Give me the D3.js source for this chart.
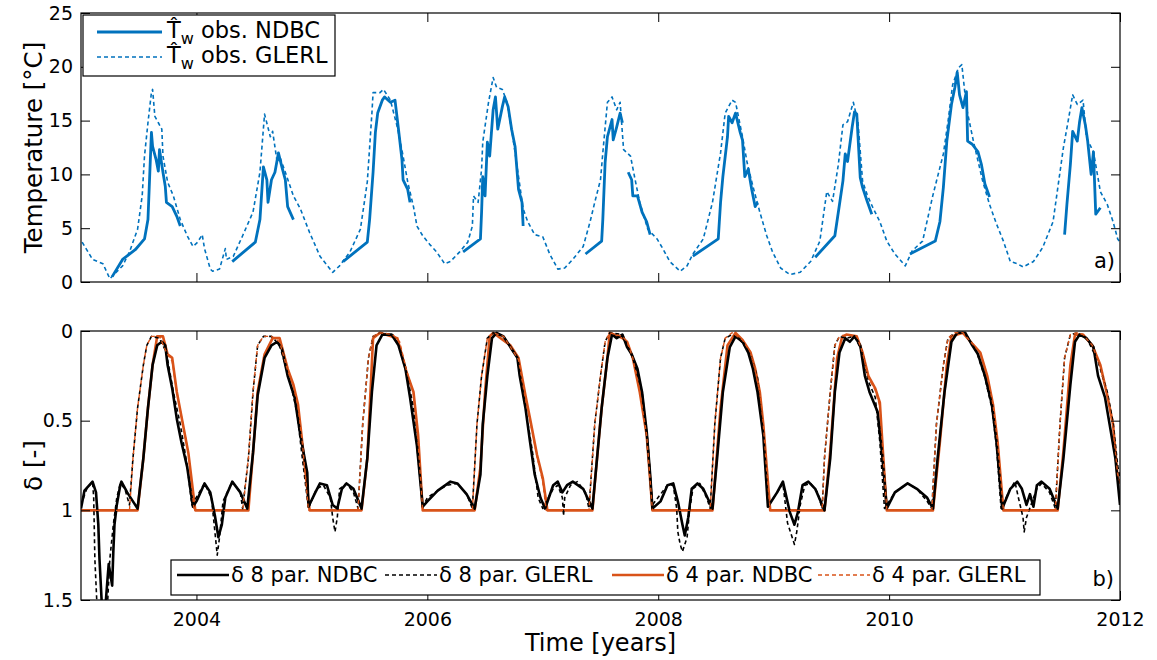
<!DOCTYPE html>
<html>
<head>
<meta charset="utf-8">
<script src="https://cdn.jsdelivr.net/npm/d3@7"></script>
<style>
  body { margin: 0; background: #fff; }
  svg { display: block; font-family: 'DejaVu Sans', sans-serif; }
</style>
</head>
<body>
<svg id="chart"></svg>
<script>

/*
*   Data: [decimal year, value], null = gap in record
*/

const tempGLERL = [
    [2003.01,3.7],[2003.10,2.1],[2003.19,1.7],[2003.25,0.3],[2003.36,1.5],[2003.42,2.8],[2003.49,4.9],[2003.53,8.0],
    [2003.55,11.7],[2003.58,14.8],[2003.61,17.6],[2003.62,17.9],[2003.64,15.4],[2003.67,14.8],[2003.70,14.2],[2003.71,11.7],
    [2003.75,9.3],[2003.80,8.0],[2003.86,5.8],[2003.92,4.3],[2003.97,3.3],[2004.01,3.7],[2004.05,4.4],[2004.07,3.1],
    [2004.12,1.2],[2004.14,1.0],[2004.20,1.2],[2004.25,3.1],[2004.26,2.1],[2004.32,2.4],[2004.40,4.3],[2004.49,6.5],
    [2004.55,10.2],[2004.59,15.6],[2004.64,13.5],[2004.66,14.0],[2004.70,11.1],[2004.72,11.7],[2004.77,10.2],[2004.84,8.0],
    [2004.90,6.8],[2004.98,4.6],[2005.07,2.4],[2005.18,0.9],[2005.24,1.5],[2005.33,2.8],[2005.42,4.9],[2005.48,9.3],
    [2005.52,15.7],[2005.53,17.6],[2005.59,17.6],[2005.62,17.9],[2005.68,16.9],[2005.74,14.4],[2005.79,11.7],[2005.83,9.3],
    [2005.88,7.0],[2005.91,5.2],[2005.96,4.3],[2006.02,3.5],[2006.08,2.8],[2006.15,1.7],[2006.20,1.9],[2006.28,2.8],
    [2006.35,3.7],[2006.39,5.2],[2006.40,8.0],[2006.44,7.4],[2006.47,10.5],[2006.48,13.0],[2006.53,16.7],[2006.57,19.0],
    [2006.60,18.1],[2006.65,17.9],[2006.69,16.7],[2006.74,13.5],[2006.79,9.8],[2006.83,6.8],[2006.87,5.6],[2006.93,4.4],
    [2007.00,4.2],[2007.06,2.6],[2007.13,1.2],[2007.19,1.3],[2007.26,2.1],[2007.35,3.3],[2007.41,5.6],[2007.45,7.4],
    [2007.50,9.5],[2007.52,12.0],[2007.56,16.7],[2007.60,17.2],[2007.64,16.0],[2007.67,16.7],[2007.70,12.3],[2007.76,11.7],
    [2007.80,9.5],[2007.84,7.4],[2007.91,4.9],[2007.99,4.0],[2008.04,3.1],[2008.10,1.9],[2008.19,1.0],[2008.25,1.5],
    [2008.30,2.6],[2008.39,4.0],[2008.47,7.4],[2008.54,12.0],[2008.58,15.7],[2008.64,16.9],[2008.67,16.7],[2008.73,13.5],
    [2008.77,11.1],[2008.82,8.9],[2008.88,6.5],[2008.94,4.3],[2008.99,2.8],[2009.06,1.3],[2009.14,0.7],[2009.23,0.9],
    [2009.32,1.9],[2009.40,3.8],[2009.46,8.4],[2009.51,7.5],[2009.56,10.9],[2009.60,14.6],[2009.64,14.9],[2009.69,16.7],
    [2009.73,14.9],[2009.77,9.4],[2009.81,8.1],[2009.86,6.9],[2009.92,5.6],[2009.98,3.8],[2010.05,2.6],[2010.14,1.5],
    [2010.20,2.9],[2010.29,3.8],[2010.38,8.1],[2010.47,11.9],[2010.51,14.9],[2010.55,18.3],[2010.60,19.9],[2010.63,20.2],
    [2010.67,16.2],[2010.73,13.1],[2010.81,9.4],[2010.87,7.2],[2010.93,5.4],[2010.99,3.8],[2011.05,1.9],[2011.11,1.7],
    [2011.16,1.4],[2011.25,1.9],[2011.33,3.2],[2011.42,5.6],[2011.51,12.5],[2011.55,14.9],[2011.59,17.4],[2011.63,16.5],
    [2011.68,16.9],[2011.71,13.4],[2011.77,12.1],[2011.83,8.4],[2011.89,7.2],[2011.94,5.6],[2011.98,4.0],[2012.00,3.7]
]

const tempNDBC = [
    [2003.27,0.5],[2003.36,2.1],[2003.47,3.0],[2003.55,4.0],[2003.58,5.8],[2003.61,13.9],[2003.62,12.6],[2003.65,11.4],
    [2003.67,10.3],[2003.68,12.3],[2003.71,10.2],[2003.73,8.9],[2003.74,7.4],[2003.79,7.0],[2003.83,6.1],[2003.86,5.2],
    null,
    [2004.31,1.9],[2004.51,3.7],[2004.55,5.8],[2004.58,10.7],[2004.61,9.5],[2004.62,7.4],[2004.65,9.5],[2004.68,10.2],
    [2004.71,12.0],[2004.74,10.7],[2004.77,9.5],[2004.79,7.0],[2004.84,5.8],
    null,
    [2005.27,1.9],[2005.48,3.7],[2005.50,5.8],[2005.53,10.2],[2005.55,13.9],[2005.57,15.7],[2005.61,16.9],[2005.63,17.2],
    [2005.68,16.7],[2005.72,16.9],[2005.75,14.2],[2005.78,11.4],[2005.79,9.5],[2005.83,8.6],[2005.85,7.4],
    null,
    [2006.31,2.8],[2006.46,4.0],[2006.47,6.5],[2006.48,9.8],[2006.50,8.0],[2006.52,13.0],[2006.54,11.7],[2006.57,16.0],
    [2006.59,17.2],[2006.61,14.2],[2006.65,16.3],[2006.67,17.2],[2006.70,16.3],[2006.73,14.2],[2006.76,12.6],[2006.79,8.6],
    [2006.82,7.4],[2006.83,5.2],
    null,
    [2007.37,2.6],[2007.51,3.8],[2007.52,5.8],[2007.54,11.1],[2007.56,13.5],[2007.60,15.1],[2007.61,13.2],[2007.64,14.4],
    [2007.67,15.7],[2007.69,14.8],
    null,
    [2007.74,10.2],[2007.77,9.5],[2007.78,8.0],[2007.82,8.0],[2007.86,6.5],[2007.90,5.6],[2007.93,4.4],
    null,
    [2008.30,2.4],[2008.52,4.0],[2008.54,7.4],[2008.56,9.8],[2008.60,13.5],[2008.61,15.4],[2008.64,14.8],[2008.67,15.7],
    [2008.71,13.9],[2008.73,13.2],[2008.75,9.8],[2008.78,10.5],[2008.81,8.6],[2008.84,7.0],[2008.86,7.4],
    null,
    [2009.36,2.3],[2009.53,4.3],[2009.57,7.2],[2009.60,9.4],[2009.62,11.9],[2009.64,11.2],[2009.68,14.4],[2009.70,15.8],
    [2009.72,15.6],[2009.75,9.7],[2009.77,8.8],[2009.81,7.5],[2009.85,6.3],
    null,
    [2010.18,2.6],[2010.40,3.8],[2010.44,5.6],[2010.47,8.8],[2010.50,13.1],[2010.54,16.5],[2010.57,18.1],[2010.59,19.5],
    [2010.61,17.4],[2010.64,16.2],[2010.67,17.7],[2010.68,13.1],[2010.72,12.8],[2010.77,12.1],[2010.80,10.9],[2010.83,9.1],
    [2010.87,7.9],
    null,
    [2011.52,4.4],[2011.54,7.2],[2011.57,10.9],[2011.59,14.0],[2011.63,13.1],[2011.65,14.9],[2011.67,16.2],[2011.70,14.6],
    [2011.72,13.1],[2011.75,10.0],[2011.77,12.1],[2011.79,6.3],[2011.83,6.9]
]

const delta8NDBC = [
    [2003.00,0.99],[2003.03,0.89],[2003.10,0.84],[2003.13,0.90],[2003.15,1.08],[2003.16,1.27],[2003.18,1.52],[2003.20,1.60],
    [2003.21,1.55],[2003.23,1.38],[2003.24,1.30],[2003.27,1.42],[2003.28,1.23],[2003.29,1.08],[2003.31,0.97],[2003.34,0.86],
    [2003.35,0.84],[2003.40,0.90],[2003.45,0.95],[2003.49,0.99],[2003.54,0.71],[2003.58,0.43],[2003.62,0.19],[2003.66,0.08],
    [2003.70,0.06],[2003.73,0.08],[2003.75,0.19],[2003.79,0.32],[2003.83,0.49],[2003.87,0.62],[2003.92,0.76],[2003.97,0.98],
    [2004.00,0.95],[2004.07,0.85],[2004.12,0.90],[2004.16,1.03],[2004.19,1.15],[2004.22,1.08],[2004.25,0.93],[2004.31,0.84],
    [2004.38,0.90],[2004.44,0.99],[2004.49,0.68],[2004.53,0.36],[2004.59,0.15],[2004.65,0.08],[2004.70,0.06],[2004.74,0.10],
    [2004.79,0.25],[2004.85,0.37],[2004.90,0.58],[2004.96,0.79],[2004.97,0.98],[2005.03,0.90],[2005.07,0.85],[2005.13,0.86],
    [2005.18,0.97],[2005.22,0.99],[2005.26,0.88],[2005.30,0.85],[2005.36,0.88],[2005.43,0.99],[2005.48,0.71],[2005.52,0.34],
    [2005.56,0.08],[2005.61,0.02],[2005.69,0.02],[2005.75,0.08],[2005.81,0.21],[2005.85,0.37],[2005.91,0.64],[2005.96,0.98],
    [2006.00,0.95],[2006.09,0.89],[2006.20,0.84],[2006.26,0.85],[2006.34,0.91],[2006.41,0.99],[2006.46,0.80],[2006.48,0.52],
    [2006.52,0.25],[2006.56,0.04],[2006.60,0.01],[2006.66,0.03],[2006.73,0.10],[2006.78,0.15],[2006.80,0.25],[2006.85,0.43],
    [2006.89,0.62],[2006.93,0.80],[2006.98,0.93],[2007.02,0.99],[2007.09,0.86],[2007.13,0.84],[2007.17,0.90],[2007.21,0.86],
    [2007.26,0.84],[2007.35,0.88],[2007.43,0.99],[2007.47,0.71],[2007.51,0.43],[2007.56,0.15],[2007.60,0.02],[2007.64,0.04],
    [2007.69,0.02],[2007.73,0.09],[2007.77,0.13],[2007.82,0.21],[2007.86,0.34],[2007.90,0.56],[2007.93,0.80],[2007.95,0.99],
    [2008.02,0.95],[2008.08,0.86],[2008.13,0.85],[2008.17,0.95],[2008.21,1.08],[2008.23,1.14],[2008.26,1.04],[2008.29,0.88],
    [2008.34,0.85],[2008.39,0.88],[2008.47,0.99],[2008.51,0.71],[2008.56,0.34],[2008.62,0.09],[2008.67,0.03],[2008.73,0.06],
    [2008.78,0.12],[2008.82,0.21],[2008.86,0.34],[2008.91,0.58],[2008.95,0.98],[2009.03,0.90],[2009.08,0.84],[2009.14,1.01],
    [2009.18,1.08],[2009.21,1.01],[2009.25,0.86],[2009.30,0.84],[2009.36,0.88],[2009.44,1.00],[2009.49,0.71],[2009.53,0.34],
    [2009.57,0.12],[2009.62,0.04],[2009.66,0.06],[2009.70,0.03],[2009.75,0.08],[2009.79,0.25],[2009.83,0.34],[2009.90,0.45],
    [2009.94,0.69],[2009.98,0.99],[2010.05,0.90],[2010.16,0.85],[2010.24,0.88],[2010.33,0.93],[2010.38,0.99],[2010.42,0.71],
    [2010.48,0.34],[2010.54,0.06],[2010.59,0.01],[2010.66,0.01],[2010.72,0.08],[2010.77,0.13],[2010.83,0.25],[2010.89,0.41],
    [2010.93,0.62],[2010.98,0.99],[2011.05,0.88],[2011.11,0.84],[2011.15,0.88],[2011.19,0.97],[2011.22,0.91],[2011.25,0.98],
    [2011.28,0.86],[2011.32,0.84],[2011.39,0.88],[2011.46,0.99],[2011.51,0.71],[2011.57,0.30],[2011.61,0.06],[2011.65,0.02],
    [2011.71,0.04],[2011.77,0.09],[2011.81,0.25],[2011.87,0.37],[2011.91,0.52],[2011.96,0.71],[2012.00,0.97]
]

const delta8GLERL = [
    [2003.00,0.97],[2003.05,0.88],[2003.10,0.84],[2003.11,0.93],[2003.12,1.27],[2003.14,1.55],[2003.16,1.70],[2003.22,1.70],
    [2003.23,1.52],[2003.25,1.27],[2003.28,1.08],[2003.31,0.93],[2003.34,0.85],[2003.38,0.88],[2003.42,0.97],[2003.45,0.71],
    [2003.49,0.43],[2003.54,0.19],[2003.57,0.08],[2003.61,0.03],[2003.68,0.04],[2003.74,0.12],[2003.80,0.34],[2003.86,0.52],
    [2003.92,0.75],[2003.96,0.97],[2004.07,0.85],[2004.13,0.93],[2004.16,1.12],[2004.18,1.25],[2004.20,1.15],[2004.23,0.95],
    [2004.31,0.84],[2004.38,0.90],[2004.40,0.99],[2004.45,0.71],[2004.49,0.34],[2004.53,0.08],[2004.58,0.03],[2004.65,0.03],
    [2004.72,0.08],[2004.81,0.28],[2004.87,0.45],[2004.91,0.67],[2004.97,0.99],[2005.04,0.88],[2005.10,0.86],[2005.16,0.93],
    [2005.18,1.04],[2005.20,1.12],[2005.22,1.04],[2005.24,0.88],[2005.30,0.85],[2005.36,0.90],[2005.40,0.99],[2005.44,0.52],
    [2005.49,0.15],[2005.53,0.03],[2005.59,0.01],[2005.70,0.02],[2005.76,0.09],[2005.82,0.23],[2005.88,0.43],[2005.92,0.71],
    [2005.96,0.98],[2006.00,0.93],[2006.09,0.89],[2006.17,0.86],[2006.26,0.85],[2006.34,0.91],[2006.39,0.99],[2006.43,0.52],
    [2006.47,0.25],[2006.52,0.04],[2006.57,0.01],[2006.66,0.03],[2006.78,0.15],[2006.85,0.43],[2006.91,0.67],[2006.96,0.93],
    [2007.00,0.99],[2007.09,0.88],[2007.13,0.86],[2007.17,0.93],[2007.18,1.03],[2007.19,0.93],[2007.24,0.86],[2007.30,0.84],
    [2007.37,0.90],[2007.40,0.99],[2007.45,0.52],[2007.50,0.25],[2007.54,0.06],[2007.58,0.01],[2007.69,0.02],[2007.78,0.15],
    [2007.86,0.34],[2007.91,0.62],[2007.95,0.97],[2008.02,0.91],[2008.08,0.86],[2008.13,0.86],[2008.16,0.99],[2008.17,1.12],
    [2008.19,1.19],[2008.21,1.23],[2008.25,1.15],[2008.27,1.01],[2008.30,0.88],[2008.36,0.85],[2008.42,0.93],[2008.45,0.99],
    [2008.49,0.52],[2008.54,0.15],[2008.58,0.04],[2008.64,0.02],[2008.71,0.05],[2008.80,0.13],[2008.86,0.26],[2008.90,0.49],
    [2008.94,0.80],[2008.95,0.98],[2009.03,0.90],[2009.08,0.85],[2009.12,1.07],[2009.16,1.15],[2009.18,1.19],[2009.20,1.12],
    [2009.23,0.97],[2009.27,0.86],[2009.32,0.85],[2009.38,0.90],[2009.42,0.99],[2009.44,0.71],[2009.49,0.34],[2009.53,0.08],
    [2009.57,0.03],[2009.63,0.04],[2009.70,0.03],[2009.77,0.12],[2009.82,0.28],[2009.88,0.37],[2009.92,0.62],[2009.96,0.99],
    [2010.05,0.90],[2010.16,0.85],[2010.24,0.88],[2010.33,0.95],[2010.37,0.99],[2010.41,0.52],[2010.47,0.19],[2010.51,0.04],
    [2010.57,0.01],[2010.66,0.01],[2010.76,0.12],[2010.83,0.26],[2010.89,0.43],[2010.93,0.64],[2010.97,0.99],[2011.05,0.88],
    [2011.09,0.84],[2011.12,0.93],[2011.16,1.04],[2011.17,1.12],[2011.19,1.04],[2011.24,0.95],[2011.28,0.88],[2011.32,0.85],
    [2011.39,0.90],[2011.44,0.99],[2011.48,0.52],[2011.52,0.15],[2011.57,0.02],[2011.63,0.01],[2011.72,0.05],[2011.81,0.17],
    [2011.89,0.34],[2011.94,0.51],[2011.98,0.75],[2012.00,0.82]
]

const delta4NDBC = [
    [2003.00,1.00],[2003.49,1.00],[2003.54,0.71],[2003.58,0.43],[2003.62,0.19],[2003.66,0.03],[2003.71,0.03],[2003.75,0.13],
    [2003.79,0.15],[2003.83,0.34],[2003.88,0.51],[2003.93,0.68],[2003.99,1.00],[2004.45,1.00],[2004.49,0.68],[2004.53,0.34],
    [2004.59,0.13],[2004.66,0.04],[2004.72,0.04],[2004.79,0.21],[2004.84,0.30],[2004.88,0.41],[2004.92,0.64],[2004.98,1.00],
    [2005.43,1.00],[2005.48,0.71],[2005.53,0.04],[2005.59,0.01],[2005.74,0.04],[2005.82,0.23],[2005.88,0.34],[2005.92,0.58],
    [2005.96,1.00],[2006.41,1.00],[2006.46,0.76],[2006.50,0.34],[2006.54,0.03],[2006.57,0.01],[2006.72,0.08],[2006.79,0.15],
    [2006.85,0.36],[2006.89,0.49],[2006.95,0.69],[2007.00,0.82],[2007.04,1.00],[2007.43,1.00],[2007.47,0.71],[2007.51,0.43],
    [2007.56,0.15],[2007.58,0.01],[2007.69,0.04],[2007.73,0.06],[2007.78,0.15],[2007.84,0.34],[2007.90,0.58],[2007.95,1.00],
    [2008.47,1.00],[2008.54,0.43],[2008.60,0.08],[2008.67,0.01],[2008.73,0.05],[2008.80,0.12],[2008.84,0.21],[2008.88,0.34],
    [2008.91,0.52],[2008.94,0.76],[2008.97,1.00],[2009.44,1.00],[2009.49,0.67],[2009.55,0.15],[2009.59,0.04],[2009.63,0.02],
    [2009.72,0.03],[2009.77,0.12],[2009.82,0.25],[2009.88,0.32],[2009.92,0.40],[2009.95,0.71],[2009.98,1.00],[2010.38,1.00],
    [2010.44,0.62],[2010.50,0.19],[2010.54,0.03],[2010.64,0.01],[2010.72,0.07],[2010.79,0.12],[2010.85,0.25],[2010.90,0.41],
    [2010.94,0.62],[2010.99,1.00],[2011.46,1.00],[2011.51,0.67],[2011.57,0.19],[2011.61,0.02],[2011.68,0.02],[2011.76,0.08],
    [2011.83,0.19],[2011.89,0.36],[2011.94,0.52],[2011.98,0.82],[2012.00,0.85]
]

const delta4GLERL = [
    [2003.00,1.00],[2003.42,1.00],[2003.45,0.71],[2003.49,0.43],[2003.54,0.19],[2003.57,0.08],[2003.61,0.03],[2003.68,0.03],
    [2003.74,0.12],[2003.79,0.17],[2003.83,0.34],[2003.88,0.51],[2003.93,0.68],[2003.98,1.00],[2004.40,1.00],[2004.45,0.71],
    [2004.49,0.34],[2004.53,0.08],[2004.58,0.03],[2004.65,0.03],[2004.72,0.06],[2004.79,0.22],[2004.84,0.31],[2004.88,0.42],
    [2004.92,0.64],[2004.97,1.00],[2005.40,1.00],[2005.44,0.52],[2005.49,0.15],[2005.53,0.03],[2005.59,0.01],[2005.70,0.02],
    [2005.76,0.06],[2005.82,0.22],[2005.88,0.35],[2005.92,0.62],[2005.96,1.00],[2006.39,1.00],[2006.43,0.52],[2006.47,0.25],
    [2006.52,0.04],[2006.57,0.01],[2006.66,0.03],[2006.72,0.09],[2006.79,0.16],[2006.85,0.38],[2006.89,0.50],[2006.95,0.70],
    [2007.00,0.84],[2007.03,1.00],[2007.40,1.00],[2007.45,0.52],[2007.50,0.25],[2007.54,0.06],[2007.58,0.01],[2007.69,0.03],
    [2007.73,0.06],[2007.78,0.15],[2007.84,0.34],[2007.90,0.58],[2007.95,1.00],[2008.45,1.00],[2008.49,0.52],[2008.54,0.15],
    [2008.58,0.04],[2008.64,0.01],[2008.73,0.05],[2008.80,0.12],[2008.84,0.22],[2008.88,0.34],[2008.91,0.52],[2008.94,0.78],
    [2008.97,1.00],[2009.42,1.00],[2009.44,0.71],[2009.49,0.34],[2009.53,0.08],[2009.57,0.03],[2009.63,0.02],[2009.72,0.03],
    [2009.77,0.12],[2009.82,0.26],[2009.88,0.33],[2009.92,0.42],[2009.95,0.71],[2009.98,1.00],[2010.37,1.00],[2010.41,0.52],
    [2010.47,0.19],[2010.51,0.04],[2010.57,0.01],[2010.64,0.01],[2010.72,0.07],[2010.79,0.12],[2010.85,0.25],[2010.90,0.41],
    [2010.94,0.62],[2010.99,1.00],[2011.44,1.00],[2011.48,0.52],[2011.52,0.15],[2011.57,0.02],[2011.63,0.01],[2011.68,0.02],
    [2011.76,0.08],[2011.83,0.20],[2011.89,0.36],[2011.94,0.54],[2011.98,0.80],[2012.00,0.84]
]

const yearTicks = [2004, 2006, 2008, 2010, 2012]
const tempTicks = [0, 5, 10, 15, 20, 25]
const deltaTicks = [0, 0.5, 1, 1.5]


/*
*   Colors and layout
*/

const COLORS = {
    blue: '#0072BD',
    orange: '#D95319',
    black: '#000000',
}

const WIDTH = 1157
const HEIGHT = 660
const LEFT = 81
const RIGHT = 1120
const TOP_A = 13
const BOTTOM_A = 282
const TOP_B = 331
const BOTTOM_B = 600
const TICK = 9


/*
*   Scales
*/

const x = d3.scaleLinear().domain([2003, 2012]).range([LEFT, RIGHT])
const yTemp = d3.scaleLinear().domain([0, 25]).range([BOTTOM_A, TOP_A])
const yDelta = d3.scaleLinear().domain([0, 1.5]).range([TOP_B, BOTTOM_B])

const svg = d3.select('#chart')
    .attr('width', WIDTH)
    .attr('height', HEIGHT)


/*
*   Draws a boxed panel with inward ticks on all four sides.
*/

const drawFrame = (yScale, yTickValues, showX, top, bottom) => {

    const g = svg.append('g')

    const styleAxis = sel => {
        sel.select('.domain').remove()
        sel.selectAll('.tick line').attr('stroke', '#000').attr('stroke-width', 1)
        sel.selectAll('text')
            .attr('fill', '#000')
            .style('font-size', '19px')
            .style('font-family', "'DejaVu Sans', sans-serif")
    }

    g.append('g')
        .attr('transform', `translate(0,${bottom})`)
        .call(d3.axisBottom(x).tickValues(yearTicks).tickSize(-TICK).tickPadding(13)
            .tickFormat(showX ? d3.format('d') : () => ''))
        .call(styleAxis)

    g.append('g')
        .attr('transform', `translate(0,${top})`)
        .call(d3.axisTop(x).tickValues(yearTicks).tickSize(-TICK).tickFormat(() => ''))
        .call(styleAxis)

    g.append('g')
        .attr('transform', `translate(${LEFT},0)`)
        .call(d3.axisLeft(yScale).tickValues(yTickValues).tickSize(-TICK).tickPadding(8).tickFormat(d => String(d)))
        .call(styleAxis)

    g.append('g')
        .attr('transform', `translate(${RIGHT},0)`)
        .call(d3.axisRight(yScale).tickValues(yTickValues).tickSize(-TICK).tickFormat(() => ''))
        .call(styleAxis)

    g.append('rect')
        .attr('x', LEFT)
        .attr('y', top)
        .attr('width', RIGHT - LEFT)
        .attr('height', bottom - top)
        .attr('fill', 'none')
        .attr('stroke', '#000')
        .attr('stroke-width', 1.2)

    return g
}


/*
*   Clip paths for the two panels
*/

const defs = svg.append('defs')
defs.append('clipPath').attr('id', 'clipA')
    .append('rect').attr('x', LEFT).attr('y', TOP_A).attr('width', RIGHT - LEFT).attr('height', BOTTOM_A - TOP_A)
defs.append('clipPath').attr('id', 'clipB')
    .append('rect').attr('x', LEFT).attr('y', TOP_B).attr('width', RIGHT - LEFT).attr('height', BOTTOM_B - TOP_B)


/*
*   Line plotting
*/

const plotLine = (data, yScale, clip, color, width, dash) => {
    const line = d3.line()
        .defined(d => d !== null)
        .x(d => x(d[0]))
        .y(d => yScale(d[1]))
    svg.append('path')
        .datum(data)
        .attr('clip-path', `url(#${clip})`)
        .attr('d', line)
        .attr('fill', 'none')
        .attr('stroke', color)
        .attr('stroke-width', width)
        .attr('stroke-linejoin', 'round')
        .attr('stroke-dasharray', dash)
}

// panel a)
plotLine(tempGLERL, yTemp, 'clipA', COLORS.blue, 1.6, '4,3')
plotLine(tempNDBC, yTemp, 'clipA', COLORS.blue, 2.8, null)

// panel b)
plotLine(delta4NDBC, yDelta, 'clipB', COLORS.orange, 2.6, null)
plotLine(delta8NDBC, yDelta, 'clipB', COLORS.black, 2.6, null)
plotLine(delta8GLERL, yDelta, 'clipB', COLORS.black, 1.6, '4,3')
plotLine(delta4GLERL, yDelta, 'clipB', COLORS.orange, 1.4, '4,3')

drawFrame(yTemp, tempTicks, false, TOP_A, BOTTOM_A)
drawFrame(yDelta, deltaTicks, true, TOP_B, BOTTOM_B)


/*
*   Axis titles and panel tags
*/

const label = (txt, px, py, size, rotate, anchor) => {
    svg.append('text')
        .attr('transform', `translate(${px},${py}) rotate(${rotate || 0})`)
        .attr('text-anchor', anchor || 'middle')
        .style('font-size', size + 'px')
        .attr('fill', '#000')
        .text(txt)
}

label('Temperature [°C]', 42, (TOP_A + BOTTOM_A) / 2, 24.5, -90)
label('δ [-]', 42, (TOP_B + BOTTOM_B) / 2, 24.5, -90)
label('Time [years]', (LEFT + RIGHT) / 2, 651, 24)
label('a)', 1115, 268, 21, 0, 'end')
label('b)', 1114, 586, 21, 0, 'end')


/*
*   Legends
*/

const legendA = svg.append('g')
legendA.append('rect')
    .attr('x', 83).attr('y', 15).attr('width', 252).attr('height', 61)
    .attr('fill', '#fff').attr('stroke', '#000').attr('stroke-width', 1.2)

const legendAItems = [
    { name: 'obs. NDBC', width: 2.8, dash: null, y: 32 },
    { name: 'obs. GLERL', width: 1.6, dash: '4,3', y: 57 },
]

legendAItems.forEach(item => {
    legendA.append('line')
        .attr('x1', 97).attr('x2', 162).attr('y1', item.y).attr('y2', item.y)
        .attr('stroke', COLORS.blue).attr('stroke-width', item.width).attr('stroke-dasharray', item.dash)
    const t = legendA.append('text')
        .attr('x', 167).attr('y', item.y + 6)
        .style('font-size', '22.5px')
        .attr('fill', '#000')
    t.append('tspan').text('T\u0302')
    t.append('tspan').attr('dy', 6).style('font-size', '16px').text('w')
    t.append('tspan').attr('dy', -6).text(' ' + item.name)
})

const legendB = svg.append('g')
legendB.append('rect')
    .attr('x', 171).attr('y', 560).attr('width', 869).attr('height', 35)
    .attr('fill', '#fff').attr('stroke', '#000').attr('stroke-width', 1.2)

const legendBItems = [
    { name: 'δ 8 par. NDBC', color: COLORS.black, width: 2.6, dash: null, x: 177 },
    { name: 'δ 8 par. GLERL', color: COLORS.black, width: 1.4, dash: '4,3', x: 385 },
    { name: 'δ 4 par. NDBC', color: COLORS.orange, width: 2.6, dash: null, x: 612 },
    { name: 'δ 4 par. GLERL', color: COLORS.orange, width: 1.4, dash: '4,3', x: 818 },
]

legendBItems.forEach(item => {
    legendB.append('line')
        .attr('x1', item.x).attr('x2', item.x + 52).attr('y1', 575).attr('y2', 575)
        .attr('stroke', item.color).attr('stroke-width', item.width).attr('stroke-dasharray', item.dash)
    legendB.append('text')
        .attr('x', item.x + 54).attr('y', 582)
        .style('font-size', '21px')
        .attr('fill', '#000')
        .text(item.name)
})

</script>
</body>
</html>
